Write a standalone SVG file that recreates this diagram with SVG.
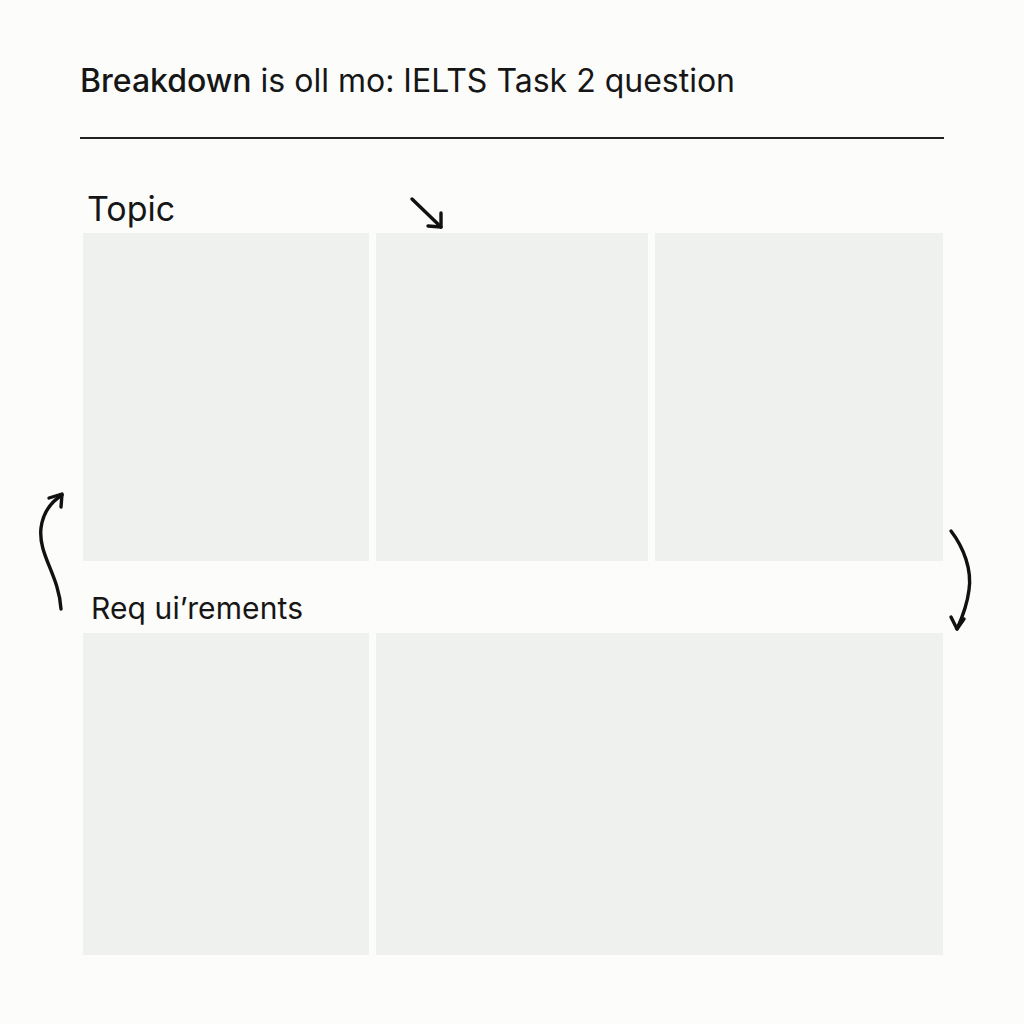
<svg xmlns="http://www.w3.org/2000/svg" width="1024" height="1024" viewBox="0 0 1024 1024">
  <style>
    .bg { fill: #fcfcfb; }
    .panel { fill: #eff1ef; }
    .label { font-family: Inter, "Noto Sans", "Liberation Sans", sans-serif; fill: #161616; }
    .title { font-size: 32px; }
    .heading { font-size: 34px; }
    .sub { font-size: 30px; }
    .conn { fill: none; stroke: #111; stroke-width: 3.4; stroke-linecap: round; stroke-linejoin: round; }
  </style>
  <rect class="bg" x="0" y="0" width="1024" height="1024"/>

  <g id="title">
    <text class="label title" x="80" y="92"><tspan font-weight="500">Breakdown</tspan> is oll mo: IELTS Task 2 question</text>
    <line x1="80" y1="138" x2="944" y2="138" stroke="#222" stroke-width="2"/>
  </g>

  <g id="topic-label">
    <text class="label heading" x="87" y="221">Topic</text>
  </g>

  <g id="topic-box-1"><rect class="panel" x="83" y="233" width="286" height="328"/></g>
  <g id="topic-box-2"><rect class="panel" x="376" y="233" width="272" height="328"/></g>
  <g id="topic-box-3"><rect class="panel" x="655" y="233" width="288" height="328"/></g>

  <g id="requirements-label">
    <text class="label sub" x="91" y="619" textLength="212" lengthAdjust="spacing">Req ui’rements</text>
  </g>

  <g id="requirements-box-1"><rect class="panel" x="83" y="633" width="286" height="322"/></g>
  <g id="requirements-box-2"><rect class="panel" x="376" y="633" width="567" height="322"/></g>

  <g id="connectors">
    <path class="conn" d="M61 609 C 59 575, 38 555, 41 528 C 43 512, 51 502, 62 495"/>
    <polyline class="conn" points="49,498 62,494 61,507"/>
    <path class="conn" d="M412 199 L 441 227"/>
    <polyline class="conn" points="441,213 441,227 428,226"/>
    <path class="conn" d="M951 531 C 964 548, 972 570, 969 590 C 967 606, 962 618, 957 629"/>
    <polyline class="conn" points="951,617 957,629 964,619"/>
  </g>
</svg>
